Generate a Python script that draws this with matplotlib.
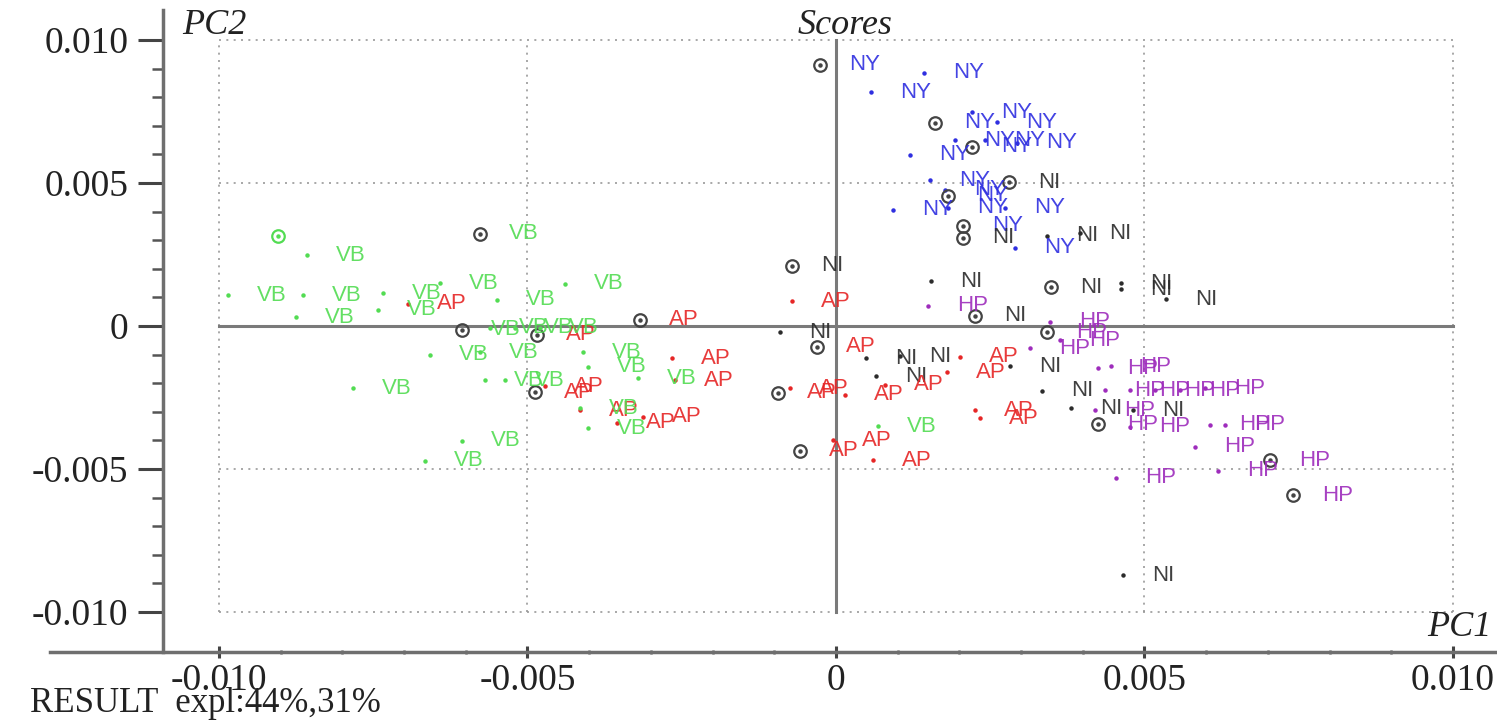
import matplotlib
matplotlib.use('Agg')
import matplotlib.pyplot as plt
from matplotlib.lines import Line2D
from matplotlib.ticker import FixedLocator, FuncFormatter

# ---------------- data ----------------
# marker code: 0 = small dot + label, 1 = circled point + label, 2 = circled point, no label
ny_x = [-0.00026, 0.00143, 0.00057, 0.00160, 0.00220, 0.00261, 0.00293, 0.00120, 0.00220, 0.00193,
        0.00241, 0.00152, 0.00177, 0.00182, 0.00092, 0.00182, 0.00274, 0.00206, 0.00290]
ny_y = [0.00913, 0.00885, 0.00818, 0.00710, 0.00748, 0.00713, 0.00640, 0.00598, 0.00626, 0.00650,
        0.00650, 0.00510, 0.00476, 0.00455, 0.00406, 0.00413, 0.00413, 0.00350, 0.00273]
ny_m = [1, 0, 0, 1, 0, 0, 0, 0, 1, 0, 0, 0, 0, 1, 0, 0, 0, 1, 0]

ni_x = [0.00280, 0.00206, 0.00342, 0.00395, -0.00071, 0.00154, 0.00348, 0.00462, 0.00462, 0.00535,
        0.00225, -0.00091, 0.00049, 0.00104, 0.00065, 0.00282, 0.00334, 0.00381, 0.00481, 0.00465]
ni_y = [0.00503, 0.00308, 0.00315, 0.00325, 0.00210, 0.00157, 0.00136, 0.00150, 0.00129, 0.00094,
        0.00035, -0.00021, -0.00112, -0.00105, -0.00175, -0.00140, -0.00227, -0.00287, -0.00294, -0.00871]
ni_m = [1, 1, 0, 0, 1, 0, 1, 0, 0, 0, 1, 0, 0, 0, 0, 0, 0, 0, 0, 0]

ap_x = [-0.00694, -0.00071, -0.00318, -0.00485, -0.00266, -0.00261, -0.00488, -0.00472, -0.00415, -0.00355,
        -0.00313, -0.00094, -0.00075, -0.00031, 0.00015, 0.00079, 0.00201, 0.00180, 0.00225, 0.00233,
        -0.00058, -0.00005, 0.00060]
ap_y = [0.00077, 0.00087, 0.00021, -0.00031, -0.00112, -0.00189, -0.00231, -0.00210, -0.00294, -0.00339,
        -0.00318, -0.00234, -0.00217, -0.00073, -0.00241, -0.00206, -0.00108, -0.00161, -0.00294, -0.00322,
        -0.00437, -0.00399, -0.00469]
ap_m = [0, 0, 1, 1, 0, 0, 1, 0, 0, 0, 0, 1, 0, 1, 0, 0, 0, 0, 0, 0, 1, 0, 0]

vb_x = [-0.00904, -0.00857, -0.00577, -0.00985, -0.00864, -0.00734, -0.00742, -0.00875, -0.00642, -0.00549,
        -0.00439, -0.00783, -0.00658, -0.00577, -0.00606, -0.00561, -0.00520, -0.00480, -0.00410, -0.00402,
        -0.00569, -0.00536, -0.00321, -0.00415, -0.00402, -0.00606, -0.00666, 0.00068]
vb_y = [0.00315, 0.00248, 0.00322, 0.00108, 0.00108, 0.00115, 0.00056, 0.00031, 0.00150, 0.00091,
        0.00147, -0.00217, -0.00101, -0.00091, -0.00014, -0.00007, -0.00007, -0.00007, -0.00091, -0.00143,
        -0.00189, -0.00189, -0.00182, -0.00287, -0.00357, -0.00402, -0.00472, -0.00350]
vb_m = [2, 0, 1, 0, 0, 0, 0, 0, 0, 0, 0, 0, 0, 0, 1, 0, 0, 0, 0, 0, 0, 0, 0, 0, 0, 0, 0, 0]

hp_x = [0.00149, 0.00347, 0.00342, 0.00363, 0.00314, 0.00425, 0.00445, 0.00436, 0.00476, 0.00517,
        0.00558, 0.00598, 0.00420, 0.00425, 0.00476, 0.00606, 0.00630, 0.00582, 0.00703, 0.00619,
        0.00454, 0.00741]
hp_y = [0.00070, 0.00014, -0.00021, -0.00049, -0.00077, -0.00147, -0.00140, -0.00224, -0.00224, -0.00224,
        -0.00224, -0.00217, -0.00294, -0.00343, -0.00353, -0.00346, -0.00346, -0.00423, -0.00469, -0.00507,
        -0.00531, -0.00591]
hp_m = [0, 0, 1, 0, 0, 0, 0, 0, 0, 0, 0, 0, 0, 1, 0, 0, 0, 0, 1, 0, 0, 1]

groups = ["NY", "NI", "AP", "VB", "HP"]
group_colors = {"NY": "#2f2fe0", "NI": "#2b2b2b", "AP": "#e62626", "VB": "#52dc52", "HP": "#9e2cbc"}

major_ticks = [-0.010, -0.005, 0.0, 0.005, 0.010]
minor_ticks = [-0.010, -0.009, -0.008, -0.007, -0.006, -0.005, -0.004, -0.003, -0.002, -0.001, 0.0,
               0.001, 0.002, 0.003, 0.004, 0.005, 0.006, 0.007, 0.008, 0.009, 0.010]
x_title = "PC1"
y_title = "PC2"
plot_title = "Scores"
footer = "RESULT  expl:44%,31%"

data = {
    "NY": (ny_x, ny_y, ny_m),
    "NI": (ni_x, ni_y, ni_m),
    "AP": (ap_x, ap_y, ap_m),
    "VB": (vb_x, vb_y, vb_m),
    "HP": (hp_x, hp_y, hp_m),
}

# ---------------- figure ----------------
W, H = 1497, 721
fig = plt.figure(figsize=(W / 100, H / 100), dpi=100)
ax = fig.add_axes([163 / W, 1 - 652 / H, (1490 - 163) / W, (652 - 10) / H])
ax.set_xlim(-0.010907, 0.0106)
ax.set_ylim(-0.011399, 0.011049)

grid_kw = dict(color="#9a9a9a", lw=1.2, ls=(0, (1.2, 3.2)), zorder=1)
for v in [-0.010, -0.005, 0.005, 0.010]:
    ax.plot([v, v], [-0.010, 0.010], **grid_kw)
    ax.plot([-0.010, 0.010], [v, v], **grid_kw)
ax.plot([-0.010, 0.010], [0, 0], color="#7a7a7a", lw=2.2, zorder=1.5)
ax.plot([0, 0], [-0.010, 0.010], color="#7a7a7a", lw=2.2, zorder=1.5)

label_font = "Liberation Sans"
for g in groups:
    xs, ys, ms = data[g]
    col = group_colors[g]
    for x, y, m in zip(xs, ys, ms):
        if m == 0:
            ax.plot(x, y, marker="o", ms=2.2, color=col, mec=col, ls="none", zorder=3)
        else:
            ec = col if m == 2 else "#444444"
            ax.plot(x, y, marker="o", ms=9, mfc="none", mec=ec, mew=1.6, ls="none", zorder=3)
            ax.plot(x, y, marker="o", ms=2.2, color=ec, ls="none", zorder=3)
        if m != 2:
            ax.annotate(g, (x, y), xytext=(21, 0), textcoords="offset points",
                        ha="left", va="center", color=col, fontsize=16,
                        family=label_font, zorder=4, alpha=0.9)

# axes styling
for s in ["top", "right", "bottom"]:
    ax.spines[s].set_visible(False)
ax.spines["left"].set_color("#6f6f6f")
ax.spines["left"].set_linewidth(2.5)
fig.add_artist(Line2D([50 / W, 1.0], [1 - 652 / H, 1 - 652 / H], transform=fig.transFigure,
                      color="#6f6f6f", lw=2.5))

fmt = FuncFormatter(lambda v, p: "0" if abs(v) < 1e-12 else ("%.3f" % v))
ax.xaxis.set_major_locator(FixedLocator(major_ticks))
ax.yaxis.set_major_locator(FixedLocator(major_ticks))
ax.xaxis.set_minor_locator(FixedLocator(minor_ticks))
ax.yaxis.set_minor_locator(FixedLocator(minor_ticks))
ax.xaxis.set_major_formatter(fmt)
ax.yaxis.set_major_formatter(fmt)

ax.tick_params(axis="y", which="major", direction="out", length=18, width=2.2, color="#444444",
               labelsize=27, pad=7)
ax.tick_params(axis="y", which="minor", direction="out", length=8, width=1.8, color="#555555")
ax.tick_params(axis="x", which="major", direction="inout", length=9, width=2.2, color="#444444",
               labelsize=27, pad=4)
ax.tick_params(axis="x", which="minor", direction="inout", length=3, width=1.8, color="#555555")
for lab in ax.get_xticklabels() + ax.get_yticklabels():
    lab.set_family("Liberation Serif")
    lab.set_color("#222222")

serif = "Liberation Serif"
fig.text(182 / W, 1 - 25 / H, y_title, ha="left", va="center", style="italic", family=serif,
         fontsize=26, color="#222222")
fig.text(845 / W, 1 - 25 / H, plot_title, ha="center", va="center", style="italic", family=serif,
         fontsize=26, color="#222222")
fig.text(1492 / W, 1 - 628 / H, x_title, ha="right", va="center", style="italic", family=serif,
         fontsize=26, color="#222222")
fig.text(30 / W, 1 - 704 / H, footer, ha="left", va="center", family=serif,
         fontsize=25, color="#222222")

fig.savefig("out.png", dpi=100)
